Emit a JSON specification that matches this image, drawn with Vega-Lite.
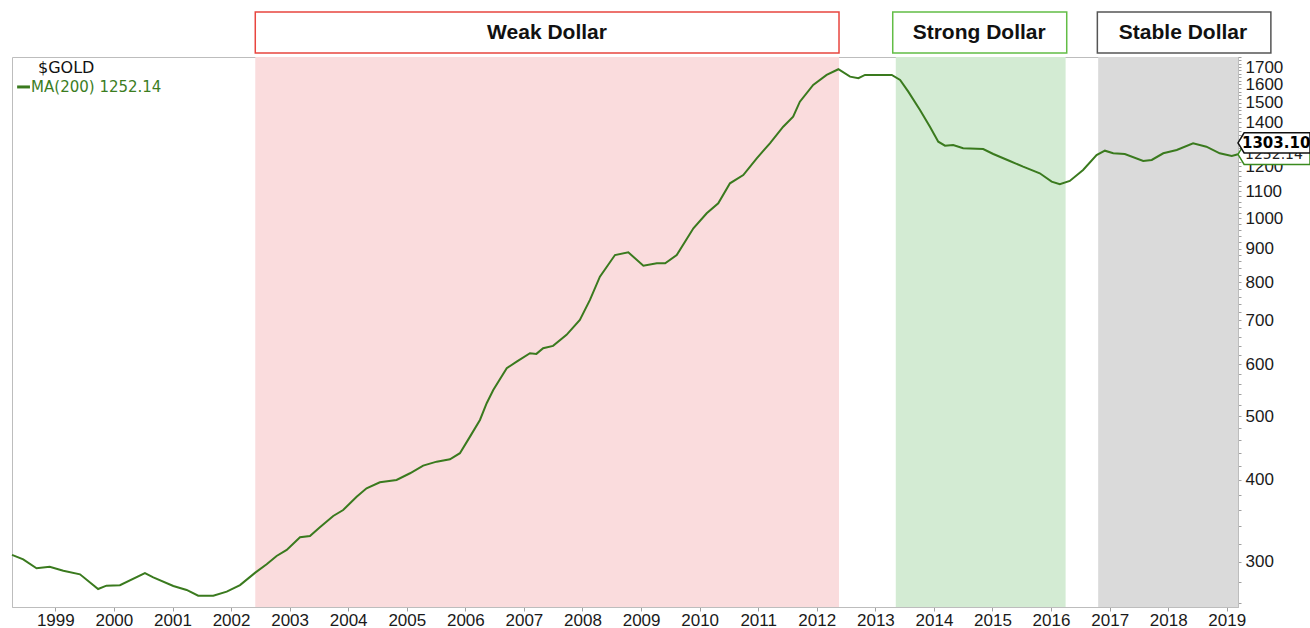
{
  "$schema": "https://vega.github.io/schema/vega-lite/v6.json",
  "width": 1226,
  "height": 550,
  "autosize": {"type": "none"},
  "padding": {"left": 12, "top": 57, "right": 72, "bottom": 21},
  "background": "white",
  "config": {"view": {"stroke": "#bdbdbd", "strokeWidth": 1}, "font": "Liberation Sans"},
  "datasets": {
    "periods": [
      {"period": "Weak Dollar", "start": "2002-06-01", "end": "2012-05-19", "box_start": "2002-06-01", "box_end": "2012-05-19", "mid": "2007-05-25"},
      {"period": "Strong Dollar", "start": "2013-05-08", "end": "2016-04-01", "box_start": "2013-04-19", "box_end": "2016-04-08", "mid": "2014-10-10"},
      {"period": "Stable Dollar", "start": "2016-10-21", "end": "2019-03-12", "box_start": "2016-10-16", "box_end": "2019-10-03", "mid": "2018-04-03"}
    ],
    "gold": [
      {"date": "1998-04-06", "ma200": 307.5},
      {"date": "1998-06-15", "ma200": 302.8},
      {"date": "1998-09-06", "ma200": 293.4},
      {"date": "1998-11-27", "ma200": 295.1},
      {"date": "1999-02-20", "ma200": 290.9},
      {"date": "1999-06-04", "ma200": 287.3},
      {"date": "1999-09-25", "ma200": 272.9},
      {"date": "1999-11-16", "ma200": 276.1},
      {"date": "2000-02-08", "ma200": 276.5},
      {"date": "2000-07-13", "ma200": 288.4},
      {"date": "2000-09-03", "ma200": 284.3},
      {"date": "2001-01-06", "ma200": 275.8},
      {"date": "2001-03-30", "ma200": 272.0},
      {"date": "2001-06-10", "ma200": 266.6},
      {"date": "2001-09-12", "ma200": 266.6},
      {"date": "2001-12-05", "ma200": 270.4},
      {"date": "2002-02-26", "ma200": 276.7},
      {"date": "2002-06-01", "ma200": 289.0},
      {"date": "2002-08-11", "ma200": 297.6},
      {"date": "2002-10-12", "ma200": 306.4},
      {"date": "2002-12-14", "ma200": 312.9},
      {"date": "2003-03-07", "ma200": 327.2},
      {"date": "2003-05-08", "ma200": 328.6},
      {"date": "2003-07-09", "ma200": 338.8},
      {"date": "2003-09-30", "ma200": 352.5},
      {"date": "2003-12-01", "ma200": 359.9},
      {"date": "2004-02-23", "ma200": 377.1},
      {"date": "2004-04-25", "ma200": 388.4},
      {"date": "2004-07-17", "ma200": 396.7},
      {"date": "2004-10-29", "ma200": 399.9},
      {"date": "2005-01-21", "ma200": 409.4},
      {"date": "2005-04-13", "ma200": 420.5},
      {"date": "2005-07-06", "ma200": 426.4},
      {"date": "2005-09-27", "ma200": 430.0},
      {"date": "2005-11-28", "ma200": 439.2},
      {"date": "2006-01-30", "ma200": 465.5},
      {"date": "2006-04-02", "ma200": 493.5},
      {"date": "2006-05-14", "ma200": 523.3},
      {"date": "2006-06-24", "ma200": 548.2},
      {"date": "2006-09-16", "ma200": 591.6},
      {"date": "2006-11-17", "ma200": 605.4},
      {"date": "2007-02-08", "ma200": 623.6},
      {"date": "2007-03-20", "ma200": 622.1},
      {"date": "2007-05-01", "ma200": 634.6},
      {"date": "2007-07-02", "ma200": 639.8},
      {"date": "2007-09-24", "ma200": 664.9},
      {"date": "2007-12-16", "ma200": 700.7},
      {"date": "2008-02-17", "ma200": 751.6},
      {"date": "2008-04-19", "ma200": 815.4},
      {"date": "2008-07-22", "ma200": 879.7},
      {"date": "2008-10-13", "ma200": 888.1},
      {"date": "2009-01-15", "ma200": 847.4},
      {"date": "2009-04-09", "ma200": 854.5},
      {"date": "2009-05-31", "ma200": 854.5},
      {"date": "2009-08-11", "ma200": 879.7},
      {"date": "2009-11-23", "ma200": 966.2},
      {"date": "2010-02-14", "ma200": 1018.3},
      {"date": "2010-04-27", "ma200": 1054.5},
      {"date": "2010-07-09", "ma200": 1131.0},
      {"date": "2010-09-30", "ma200": 1164.4},
      {"date": "2010-12-23", "ma200": 1234.8},
      {"date": "2011-03-15", "ma200": 1301.4},
      {"date": "2011-06-06", "ma200": 1379.4},
      {"date": "2011-08-07", "ma200": 1428.6},
      {"date": "2011-09-18", "ma200": 1505.8},
      {"date": "2011-12-10", "ma200": 1596.6},
      {"date": "2012-03-03", "ma200": 1653.6},
      {"date": "2012-05-15", "ma200": 1687.0},
      {"date": "2012-07-27", "ma200": 1643.8},
      {"date": "2012-09-17", "ma200": 1634.6},
      {"date": "2012-10-28", "ma200": 1653.6},
      {"date": "2013-04-13", "ma200": 1653.6},
      {"date": "2013-06-04", "ma200": 1624.9},
      {"date": "2013-07-25", "ma200": 1559.6},
      {"date": "2013-10-06", "ma200": 1462.5},
      {"date": "2013-12-07", "ma200": 1379.4},
      {"date": "2014-01-28", "ma200": 1308.7},
      {"date": "2014-03-11", "ma200": 1290.5},
      {"date": "2014-05-01", "ma200": 1293.6},
      {"date": "2014-07-02", "ma200": 1278.8},
      {"date": "2014-11-04", "ma200": 1275.6},
      {"date": "2015-01-06", "ma200": 1253.5},
      {"date": "2015-04-19", "ma200": 1223.2},
      {"date": "2015-07-11", "ma200": 1199.0},
      {"date": "2015-10-23", "ma200": 1171.6},
      {"date": "2016-01-05", "ma200": 1137.6},
      {"date": "2016-02-25", "ma200": 1127.3},
      {"date": "2016-04-27", "ma200": 1140.4},
      {"date": "2016-07-19", "ma200": 1185.2},
      {"date": "2016-10-11", "ma200": 1249.1},
      {"date": "2016-12-02", "ma200": 1268.1},
      {"date": "2017-01-23", "ma200": 1256.6},
      {"date": "2017-04-05", "ma200": 1253.5},
      {"date": "2017-07-29", "ma200": 1223.2},
      {"date": "2017-09-20", "ma200": 1227.5},
      {"date": "2017-12-01", "ma200": 1256.6},
      {"date": "2018-02-23", "ma200": 1271.2},
      {"date": "2018-06-05", "ma200": 1301.4},
      {"date": "2018-08-27", "ma200": 1286.0},
      {"date": "2018-11-18", "ma200": 1256.6},
      {"date": "2019-02-01", "ma200": 1245.0},
      {"date": "2019-03-12", "ma200": 1252.14}
    ],
    "tags": [
      {"series": "MA(200)", "date": "2019-03-12", "value": 1252.14, "label": "1252.14"},
      {"series": "$GOLD", "date": "2019-03-12", "value": 1303.10, "label": "1303.10"}
    ],
    "legend": [
      {"text": "$GOLD"},
      {"text": "MA(200) 1252.14"}
    ]
  },
  "layer": [
    {
      "data": {"name": "periods"},
      "mark": {"type": "rect"},
      "encoding": {
        "x": {
          "field": "start", "type": "temporal",
          "scale": {"type": "utc", "domain": [{"year": 1998, "month": 4, "date": 6, "utc": true}, {"year": 2019, "month": 3, "date": 12, "utc": true}]},
          "axis": {
            "title": null, "format": "%Y",
            "values": [{"year": 1999, "utc": true}, {"year": 2000, "utc": true}, {"year": 2001, "utc": true}, {"year": 2002, "utc": true}, {"year": 2003, "utc": true}, {"year": 2004, "utc": true}, {"year": 2005, "utc": true}, {"year": 2006, "utc": true}, {"year": 2007, "utc": true}, {"year": 2008, "utc": true}, {"year": 2009, "utc": true}, {"year": 2010, "utc": true}, {"year": 2011, "utc": true}, {"year": 2012, "utc": true}, {"year": 2013, "utc": true}, {"year": 2014, "utc": true}, {"year": 2015, "utc": true}, {"year": 2016, "utc": true}, {"year": 2017, "utc": true}, {"year": 2018, "utc": true}, {"year": 2019, "utc": true}],
            "labelFont": "Liberation Sans", "labelFontSize": 17, "labelColor": "#1a1a1a",
            "tickColor": "#a0a0a0", "tickSize": 4, "domainColor": "#bdbdbd", "grid": false,
            "labelFlush": false, "labelOverlap": false, "labelPadding": 1, "zindex": 0
          }
        },
        "x2": {"field": "end"},
        "fill": {
          "field": "period", "type": "nominal",
          "scale": {"domain": ["Weak Dollar", "Strong Dollar", "Stable Dollar"], "range": ["#fadcdd", "#d3ebd3", "#dadada"]},
          "legend": null
        }
      }
    },
    {
      "data": {"name": "gold"},
      "mark": {"type": "line", "color": "#3a7a1e", "strokeWidth": 2},
      "encoding": {
        "x": {"field": "date", "type": "temporal"},
        "y": {
          "field": "ma200", "type": "quantitative",
          "scale": {"type": "log", "domain": [256.2, 1761], "nice": false, "zero": false},
          "axis": {
            "orient": "right", "title": null,
            "values": [260, 280, 300, 320, 340, 360, 380, 400, 420, 440, 460, 480, 500, 520, 540, 560, 580, 600, 620, 640, 660, 680, 700, 720, 740, 760, 780, 800, 820, 840, 860, 880, 900, 920, 940, 960, 980, 1000, 1020, 1040, 1060, 1080, 1100, 1120, 1140, 1160, 1180, 1200, 1220, 1240, 1260, 1280, 1300, 1320, 1340, 1360, 1380, 1400, 1420, 1440, 1460, 1480, 1500, 1520, 1540, 1560, 1580, 1600, 1620, 1640, 1660, 1680, 1700, 1720, 1740, 1760],
            "labelExpr": "(datum.value % 100 == 0 && datum.value != 1300 && datum.value >= 300) ? '' + datum.value : ''",
            "labelFont": "Liberation Sans", "labelFontSize": 17, "labelColor": "#1a1a1a",
            "tickColor": "#a0a0a0", "tickSize": 3, "labelPadding": 4, "domainColor": "#bdbdbd",
            "grid": false, "labelOverlap": false, "labelFlush": false, "labelBound": false, "zindex": 0
          }
        }
      }
    },
    {
      "data": {"name": "periods"},
      "mark": {"type": "rect", "fill": "white", "strokeWidth": 1.5},
      "encoding": {
        "x": {"field": "box_start", "type": "temporal"},
        "x2": {"field": "box_end"},
        "y": {"datum": 1786},
        "y2": {"datum": 2062},
        "stroke": {
          "field": "period", "type": "nominal",
          "scale": {"domain": ["Weak Dollar", "Strong Dollar", "Stable Dollar"], "range": ["#e8453f", "#62bd45", "#555555"]},
          "legend": null
        }
      }
    },
    {
      "data": {"name": "periods"},
      "mark": {"type": "text", "font": "Liberation Sans", "fontWeight": "bold", "fontSize": 21, "color": "#111111", "align": "center", "baseline": "middle"},
      "encoding": {
        "x": {"field": "mid", "type": "temporal"},
        "y": {"datum": 1918},
        "text": {"field": "period"}
      }
    },
    {
      "data": {"name": "legend"},
      "transform": [{"filter": "datum.text == '$GOLD'"}],
      "mark": {"type": "text", "font": "DejaVu Sans", "fontSize": 16, "color": "#111111", "align": "left", "baseline": "middle"},
      "encoding": {
        "x": {"datum": {"year": 1998, "month": 9, "date": 15, "utc": true}, "type": "temporal"},
        "y": {"datum": 1694.7},
        "text": {"field": "text"}
      }
    },
    {
      "data": {"name": "legend"},
      "transform": [{"filter": "datum.text != '$GOLD'"}],
      "mark": {"type": "text", "font": "DejaVu Sans", "fontSize": 15, "color": "#3c7d1f", "align": "left", "baseline": "middle"},
      "encoding": {
        "x": {"datum": {"year": 1998, "month": 8, "date": 3, "utc": true}, "type": "temporal"},
        "y": {"datum": 1585.5},
        "text": {"field": "text"}
      }
    },
    {
      "data": {"name": "legend"},
      "transform": [{"filter": "datum.text != '$GOLD'"}],
      "mark": {"type": "rule", "color": "#3a7a1e", "strokeWidth": 3},
      "encoding": {
        "x": {"datum": {"year": 1998, "month": 5, "date": 8, "utc": true}, "type": "temporal"},
        "x2": {"datum": {"year": 1998, "month": 7, "date": 27, "utc": true}},
        "y": {"datum": 1585.5}
      }
    },
    {
      "data": {"name": "tags"},
      "transform": [{"filter": "datum.series == 'MA(200)'"}],
      "mark": {"type": "point", "shape": "M 0 0 L 0.17 -0.28 L 2 -0.28 L 2 0.28 L 0.17 0.28 Z", "size": 5184, "filled": true, "fill": "white", "stroke": "#3a8a1e", "strokeWidth": 1.5, "opacity": 1},
      "encoding": {
        "x": {"field": "date", "type": "temporal"},
        "y": {"field": "value", "type": "quantitative"}
      }
    },
    {
      "data": {"name": "tags"},
      "transform": [{"filter": "datum.series == 'MA(200)'"}],
      "mark": {"type": "text", "font": "DejaVu Sans", "fontSize": 14, "color": "#222222", "align": "left", "baseline": "middle", "dx": 7, "dy": 1},
      "encoding": {
        "x": {"field": "date", "type": "temporal"},
        "y": {"field": "value", "type": "quantitative"},
        "text": {"field": "label"}
      }
    },
    {
      "data": {"name": "tags"},
      "transform": [{"filter": "datum.series == '$GOLD'"}],
      "mark": {"type": "point", "shape": "M 0 0 L 0.17 -0.28 L 2 -0.28 L 2 0.28 L 0.17 0.28 Z", "size": 5184, "filled": true, "fill": "white", "stroke": "#111111", "strokeWidth": 1.5, "opacity": 1},
      "encoding": {
        "x": {"field": "date", "type": "temporal"},
        "y": {"field": "value", "type": "quantitative"}
      }
    },
    {
      "data": {"name": "tags"},
      "transform": [{"filter": "datum.series == '$GOLD'"}],
      "mark": {"type": "text", "font": "DejaVu Sans", "fontWeight": "bold", "fontSize": 15, "color": "#000000", "align": "left", "baseline": "middle", "dx": 4},
      "encoding": {
        "x": {"field": "date", "type": "temporal"},
        "y": {"field": "value", "type": "quantitative"},
        "text": {"field": "label"}
      }
    }
  ]
}
